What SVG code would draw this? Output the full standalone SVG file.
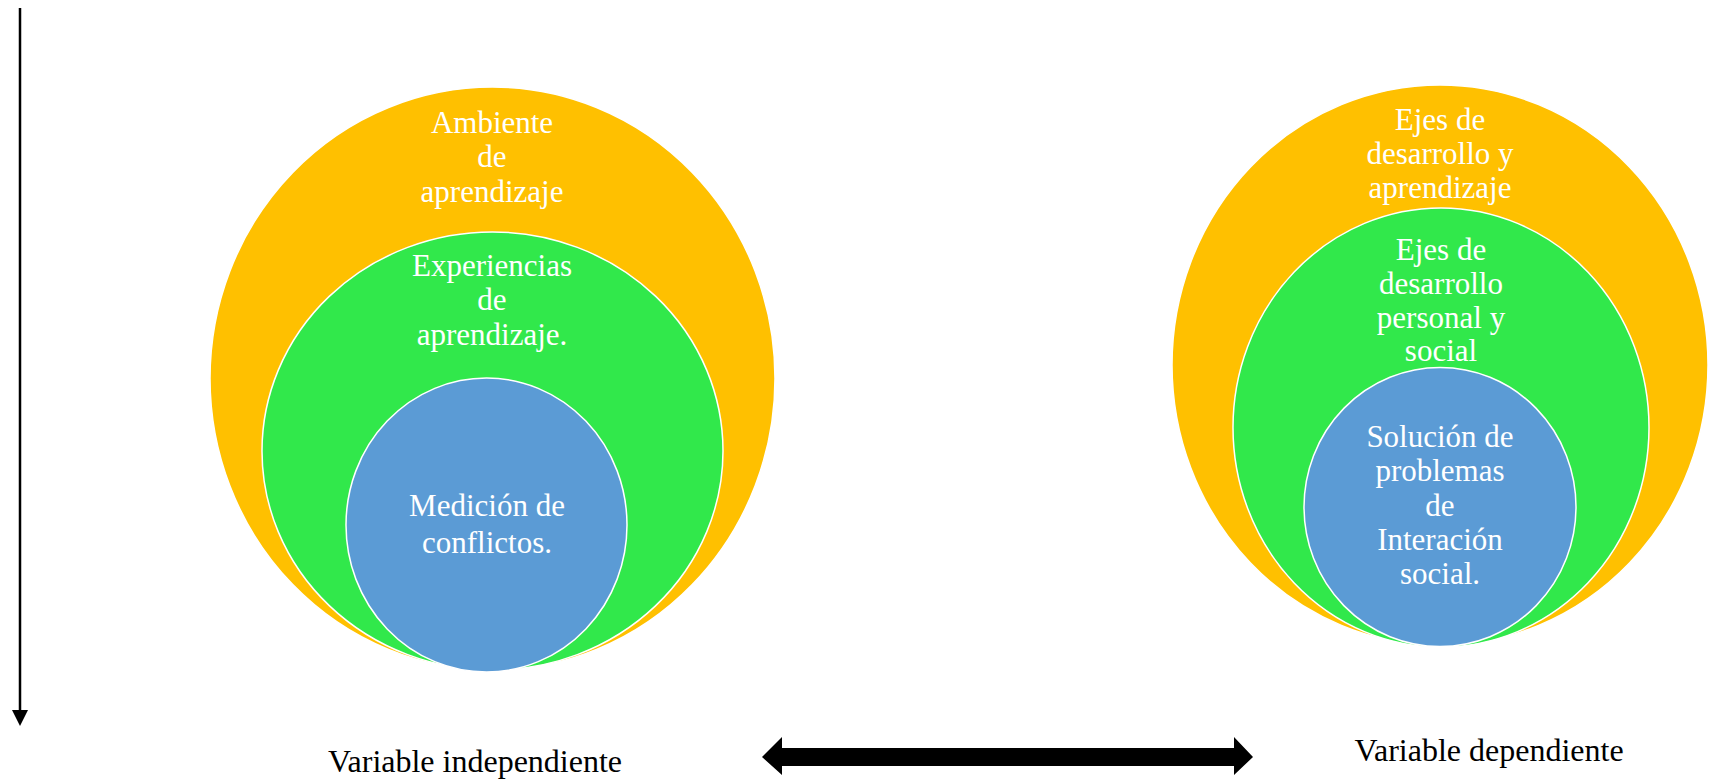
<svg xmlns="http://www.w3.org/2000/svg" width="1709" height="783" viewBox="0 0 1709 783">
<style>
.o{fill:#FFC000;stroke:#FFFFFF;stroke-width:1.5}
.g{fill:#31E84B;stroke:#FFFFFF;stroke-width:1.5}
.b{fill:#5B9BD5;stroke:#FFFFFF;stroke-width:1.5}
.t{font-family:"Liberation Serif","Times New Roman",serif;font-size:31px;fill:#FFFFFF;text-anchor:middle}
.lbl{font-family:"Liberation Serif","Times New Roman",serif;font-size:32px;fill:#000000;text-anchor:middle}
</style>
<defs>
<marker id="ah" markerWidth="16" markerHeight="16" refX="8" refY="0" viewBox="0 0 16 16" markerUnits="userSpaceOnUse" orient="auto" overflow="visible">
<polygon points="0,-8 16,0 0,8" fill="#000000"/>
</marker>
</defs>
<rect width="1709" height="783" fill="#FFFFFF"/>
<g id="connectors">
<line x1="20" y1="8" x2="20" y2="718" stroke="#000000" stroke-width="2.5" marker-end="url(#ah)"/>
<polygon points="762,757 782,737 782,748 1234,748 1234,737 1253,757 1234,775 1234,766 782,766 782,775" fill="#000000"/>
</g>
<g id="ambiente">
<ellipse class="o" cx="492.5" cy="378.5" rx="282.5" ry="291.5"/>
<text class="t" x="492" y="133">Ambiente</text>
<text class="t" x="492" y="167">de</text>
<text class="t" x="492" y="202">aprendizaje</text>
</g>
<g id="experiencias">
<ellipse class="g" cx="492.5" cy="451" rx="230.5" ry="219"/>
<text class="t" x="492" y="276">Experiencias</text>
<text class="t" x="492" y="310">de</text>
<text class="t" x="492" y="345">aprendizaje.</text>
</g>
<g id="medicion">
<ellipse class="b" cx="486.5" cy="525" rx="140.5" ry="147"/>
<text class="t" x="487" y="516">Medición de</text>
<text class="t" x="487" y="553">conflictos.</text>
</g>
<g id="ejes-desarrollo-aprendizaje">
<ellipse class="o" cx="1440" cy="365" rx="268" ry="280"/>
<text class="t" x="1440" y="130">Ejes de</text>
<text class="t" x="1440" y="164">desarrollo y</text>
<text class="t" x="1440" y="198">aprendizaje</text>
</g>
<g id="ejes-personal-social">
<ellipse class="g" cx="1441" cy="427.5" rx="208" ry="219.5"/>
<text class="t" x="1441" y="260">Ejes de</text>
<text class="t" x="1441" y="294">desarrollo</text>
<text class="t" x="1441" y="328">personal y</text>
<text class="t" x="1441" y="361">social</text>
</g>
<g id="solucion">
<ellipse class="b" cx="1440" cy="507" rx="136" ry="139.5"/>
<text class="t" x="1440" y="447">Solución de</text>
<text class="t" x="1440" y="481">problemas</text>
<text class="t" x="1440" y="516">de</text>
<text class="t" x="1440" y="550">Interación</text>
<text class="t" x="1440" y="584">social.</text>
</g>
<g id="var-independiente">
<text class="lbl" x="475" y="772">Variable independiente</text>
</g>
<g id="var-dependiente">
<text class="lbl" x="1489" y="761">Variable dependiente</text>
</g>
</svg>
